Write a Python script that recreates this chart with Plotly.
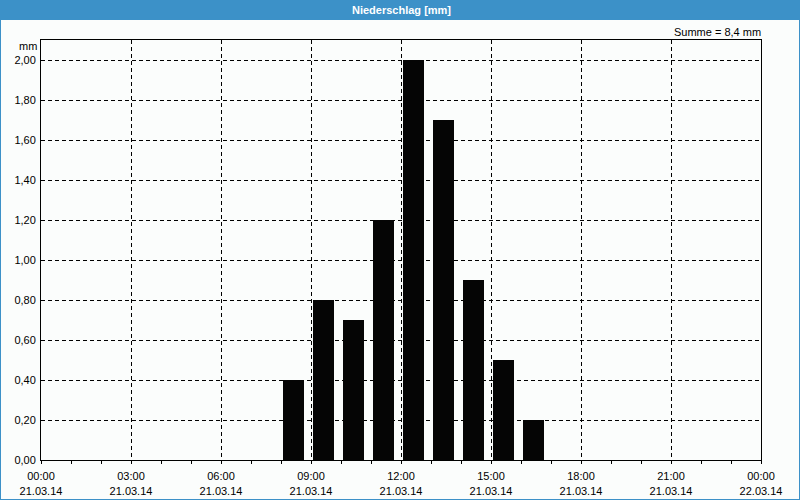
import plotly.graph_objects as go

# Data
bar_times = ["2014-03-21 08:25", "2014-03-21 09:25", "2014-03-21 10:25", "2014-03-21 11:25",
             "2014-03-21 12:25", "2014-03-21 13:25", "2014-03-21 14:25", "2014-03-21 15:25",
             "2014-03-21 16:25"]
rain_mm = [0.4, 0.8, 0.7, 1.2, 2.0, 1.7, 0.9, 0.5, 0.2]
tick_vals = ["2014-03-21 00:00", "2014-03-21 03:00", "2014-03-21 06:00", "2014-03-21 09:00",
             "2014-03-21 12:00", "2014-03-21 15:00", "2014-03-21 18:00", "2014-03-21 21:00",
             "2014-03-22 00:00"]
tick_text = ["00:00<br>21.03.14", "03:00<br>21.03.14", "06:00<br>21.03.14", "09:00<br>21.03.14",
             "12:00<br>21.03.14", "15:00<br>21.03.14", "18:00<br>21.03.14", "21:00<br>21.03.14",
             "00:00<br>22.03.14"]
y_ticks = [0, 0.2, 0.4, 0.6, 0.8, 1.0, 1.2, 1.4, 1.6, 1.8, 2.0]

BLUE = "#3C91C8"
BG = "#FBFDFC"
FONT = "Liberation Sans"

fig = go.Figure()
fig.add_trace(go.Bar(
    x=bar_times, y=rain_mm,
    width=42 * 60 * 1000,
    marker=dict(color="#050505", line=dict(width=0)),
    hoverinfo="x+y",
))

W, H = 800, 500
L, R, T, B = 41, 39, 40, 40
pw, ph = W - L - R, H - T - B

def px_x(x):
    return (x - L) / pw

def px_y(y):
    return (H - B - y) / ph

fig.add_shape(type="rect", xref="paper", yref="paper",
              x0=px_x(1), x1=px_x(W - 1), y0=px_y(H - 1), y1=px_y(20),
              fillcolor=BG, line=dict(width=0), layer="below")

fig.update_layout(
    width=W, height=H,
    margin=dict(l=L, r=R, t=T, b=B, autoexpand=False),
    paper_bgcolor=BLUE,
    plot_bgcolor=BG,
    separators=",.",
    showlegend=False,
    bargap=0,
    font=dict(family=FONT, size=11, color="#000000"),
    xaxis=dict(
        type="date",
        range=["2014-03-21 00:00", "2014-03-22 00:00"],
        tickmode="array", tickvals=tick_vals, ticktext=tick_text,
        tickfont=dict(family=FONT, size=11, color="#000000"),
        ticks="outside", ticklen=3, tickcolor="#000000",
        ticklabelstandoff=3,
        minor=dict(dtick=3600000, ticks="outside", ticklen=3, tickcolor="#000000", showgrid=False),
        showgrid=True, gridcolor="#000000", griddash="4px,3px", gridwidth=1,
        showline=True, linecolor="#000000", linewidth=1, mirror=True,
        zeroline=False, fixedrange=True, automargin=False,
    ),
    yaxis=dict(
        range=[0, 2.1],
        tickmode="array", tickvals=y_ticks,
        tickformat=".2f",
        tickfont=dict(family=FONT, size=11, color="#000000"),
        ticks="outside", ticklen=2, tickcolor="rgba(0,0,0,0)",
        showgrid=True, gridcolor="#000000", griddash="4px,3px", gridwidth=1,
        showline=True, linecolor="#000000", linewidth=1, mirror=True,
        zeroline=False, fixedrange=True, automargin=False,
    ),
    annotations=[
        dict(text="<b>Niederschlag [mm]</b>", xref="paper", yref="paper",
             x=0.5, y=px_y(10), xanchor="center", yanchor="middle", showarrow=False,
             font=dict(family=FONT, size=11, color="#FFFFFF")),
        dict(text="Summe = 8,4 mm", xref="paper", yref="paper",
             x=px_x(763), y=px_y(32), xanchor="right", yanchor="middle", showarrow=False,
             font=dict(family=FONT, size=11, color="#000000")),
        dict(text="mm", xref="paper", yref="paper",
             x=px_x(39), y=px_y(46), xanchor="right", yanchor="middle", showarrow=False,
             font=dict(family=FONT, size=11, color="#000000")),
    ],
)

fig.write_html("out.html", config={"displayModeBar": False},
               post_script="document.body.style.margin='0';")
